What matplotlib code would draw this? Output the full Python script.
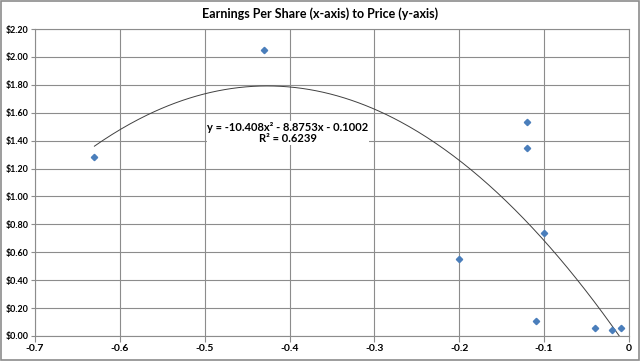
import numpy as np
import matplotlib.pyplot as plt
from matplotlib.patches import Rectangle
from matplotlib.ticker import FuncFormatter, MultipleLocator

eps = [-0.63, -0.43, -0.12, -0.12, -0.20, -0.10, -0.11, -0.04, -0.02, -0.01]
price = [1.28, 2.05, 1.53, 1.35, 0.55, 0.74, 0.11, 0.06, 0.04, 0.06]

# trendline coefficients as printed on the chart
coef = [-10.408, -8.8753, -0.1002]
r2 = 0.6239

plt.rcParams['font.family'] = ['Lato', 'DejaVu Sans']

fig = plt.figure(figsize=(6.4, 3.61), dpi=100)
ax = fig.add_axes([35 / 640, 1 - 336 / 361, 594 / 640, 307 / 361])

grid_c = '#8c8c8c'
ax.set_xlim(-0.7, 0)
ax.set_ylim(0, 2.2)
ax.xaxis.set_major_locator(MultipleLocator(0.1))
ax.yaxis.set_major_locator(MultipleLocator(0.2))
ax.xaxis.set_major_formatter(FuncFormatter(lambda v, p: '0' if abs(v) < 1e-9 else f'{v:.1f}'))
ax.yaxis.set_major_formatter(FuncFormatter(lambda v, p: f'${v:.2f}'))
ax.grid(True, color=grid_c, lw=0.8)
ax.set_axisbelow(True)
for s in ax.spines.values():
    s.set_color(grid_c)
    s.set_linewidth(0.8)
ax.tick_params(direction='out', length=4, width=0.8, color=grid_c, pad=2)
ax.tick_params(axis='x', labelsize=7.5)
ax.tick_params(axis='y', labelsize=6.4, length=3, pad=1.5)
for lab in ax.get_xticklabels() + ax.get_yticklabels():
    lab.set_fontweight('bold')

xs = np.linspace(min(eps), max(eps), 300)
ax.plot(xs, np.polyval(coef, xs), color='#404040', lw=0.7, clip_on=True)

ax.plot(eps, price, linestyle='none', marker='D', markersize=3.2,
        color='#4a7ebb', zorder=3)

ax.text(-0.402, 1.455, 'y = -10.408x² - 8.8753x - 0.1002\nR² = 0.6239',
        ha='center', va='center', fontsize=8, fontweight='bold',
        linespacing=1.1,
        bbox=dict(facecolor='white', edgecolor='none', pad=0.5))

fig.text(320 / 640, 1 - 14 / 361, 'Earnings Per Share (x-axis) to Price (y-axis)',
         ha='center', va='center', fontsize=9, fontweight='bold')

fig.patches.append(Rectangle((0.001, 0.002), 0.997, 0.995, transform=fig.transFigure,
                             fill=False, edgecolor='#8c8c8c', lw=1.2))

fig.savefig('out.png', dpi=100)
